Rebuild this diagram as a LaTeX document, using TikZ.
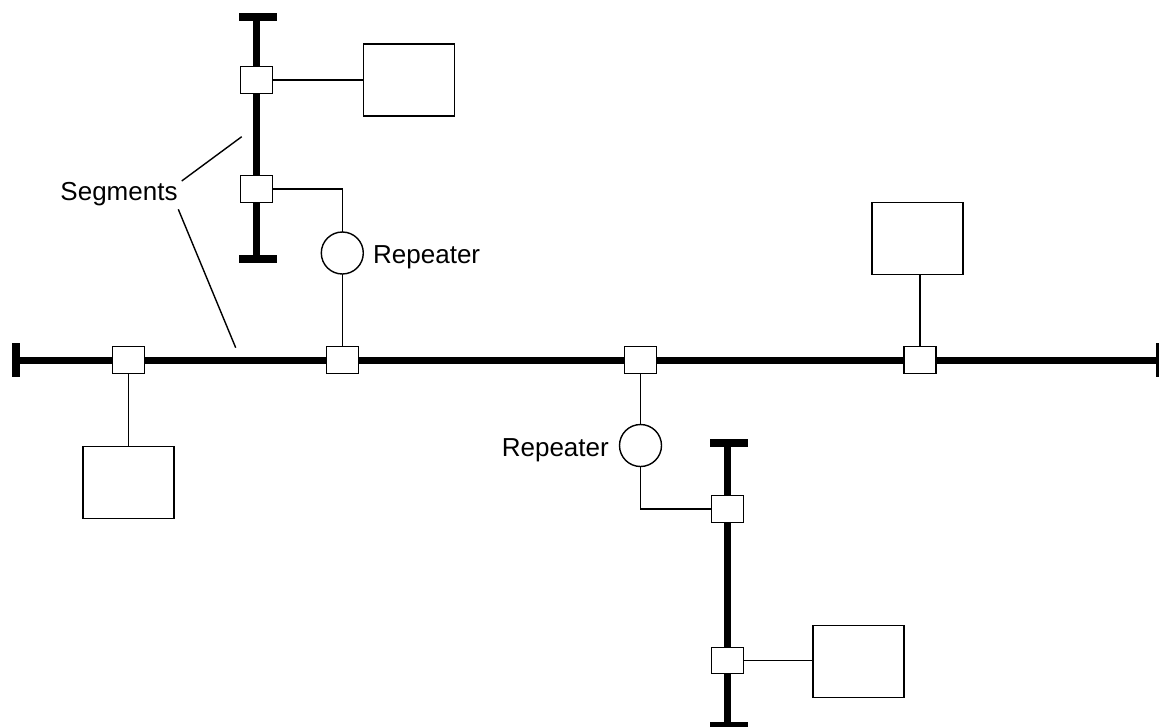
\documentclass[tikz,border=0pt]{standalone}
\usepackage{fontspec}
\setmainfont{Liberation Sans}
\usetikzlibrary{backgrounds}
\begin{document}
\begin{tikzpicture}[x=1pt,y=-1pt,
  bus/.style={line width=7pt},
  capbar/.style={fill=black},
  tcvr/.style={draw, line width=1.4pt, fill=white, minimum width=32pt, minimum height=26.5pt, inner sep=0pt, outer sep=0pt},
  station/.style={draw, line width=1.4pt, fill=white, minimum width=91pt, minimum height=72pt, inner sep=0pt, outer sep=0pt},
  rptr/.style={draw, circle, line width=1.4pt, fill=white, minimum size=42pt, inner sep=0pt, outer sep=0pt},
  wire/.style={line width=1.4pt},
  lbl/.style={font=\fontsize{26}{30}\selectfont, inner sep=0pt}]
\useasboundingbox (0,0) rectangle (1159,726);
\clip (0,0) rectangle (1159,726);

% transceivers
\node[tcvr] (t1) at (256.7,80) {};
\node[tcvr] (t2) at (256.7,189) {};
\node[tcvr] (t3) at (727.3,509) {};
\node[tcvr] (t4) at (727.3,660.5) {};
\node[tcvr] (tm1) at (128.3,360) {};
\node[tcvr] (tm2) at (342.3,360) {};
\node[tcvr] (tm3) at (640.5,360) {};
\node[tcvr] (tm4) at (920,360) {};
% stations
\node[station] (s1) at (409,80) {};
\node[station] (s2) at (128.3,482.3) {};
\node[station] (s3) at (858.3,661.7) {};
\node[station] (s4) at (917.5,238.3) {};
% repeaters
\node[rptr] (r1) at (342.3,253) {};
\node[rptr] (r2) at (640.5,445.5) {};
% labels
\node[lbl, anchor=base west] (rl1) at (373,263.3) {Repeater};
\node[lbl, anchor=base east] (rl2) at (609,456.7) {Repeater};
\node[lbl, anchor=base] (seg) at (119,200) {Segments};
\coordinate (segA) at (181.7,181);
\coordinate (segAend) at (241.7,136.7);
\coordinate (segB) at (178.3,209.3);
\coordinate (segBend) at (235.7,347.7);
% bus end points
\coordinate (mainL) at (20,360);
\coordinate (mainR) at (1157,360);
\coordinate (upT) at (256.7,21);
\coordinate (upB) at (256.7,255);
\coordinate (loT) at (727.3,447);
\coordinate (loB) at (727.3,722);

\begin{pgfonlayer}{background}
  \draw[bus] (mainL) -- (mainR);
  \draw[bus] (upT) -- (upB);
  \draw[bus] (loT) -- (loB);
  \fill[capbar] (12,343.3) rectangle (20,377.3);
  \fill[capbar] (1156,343.3) rectangle (1164,377.3);
  \fill[capbar] (239,13.3) rectangle (277,21.3);
  \fill[capbar] (239,255) rectangle (277,263);
  \fill[capbar] (709.5,439.3) rectangle (747.5,447.3);
  \fill[capbar] (709.5,721.7) rectangle (747.5,729.7);
  % wires
  \draw[wire] (t1.east) -- (t1.east -| s1.west);
  \draw[wire] (t2.east) -| (r1.north);
  \draw[wire] (r1.south) -- (tm2.north);
  \draw[wire] (tm1.south) -- (tm1.south |- s2.north);
  \draw[wire] (tm3.south) -- (r2.north);
  \draw[wire] (r2.south) |- (t3.west);
  \draw[wire] (t4.east) -- (t4.east -| s3.west);
  \draw[wire] (tm4.north) -- (tm4.north |- s4.south);
  \draw[wire] (segA) -- (segAend);
  \draw[wire] (segB) -- (segBend);
\end{pgfonlayer}
\end{tikzpicture}
\end{document}
